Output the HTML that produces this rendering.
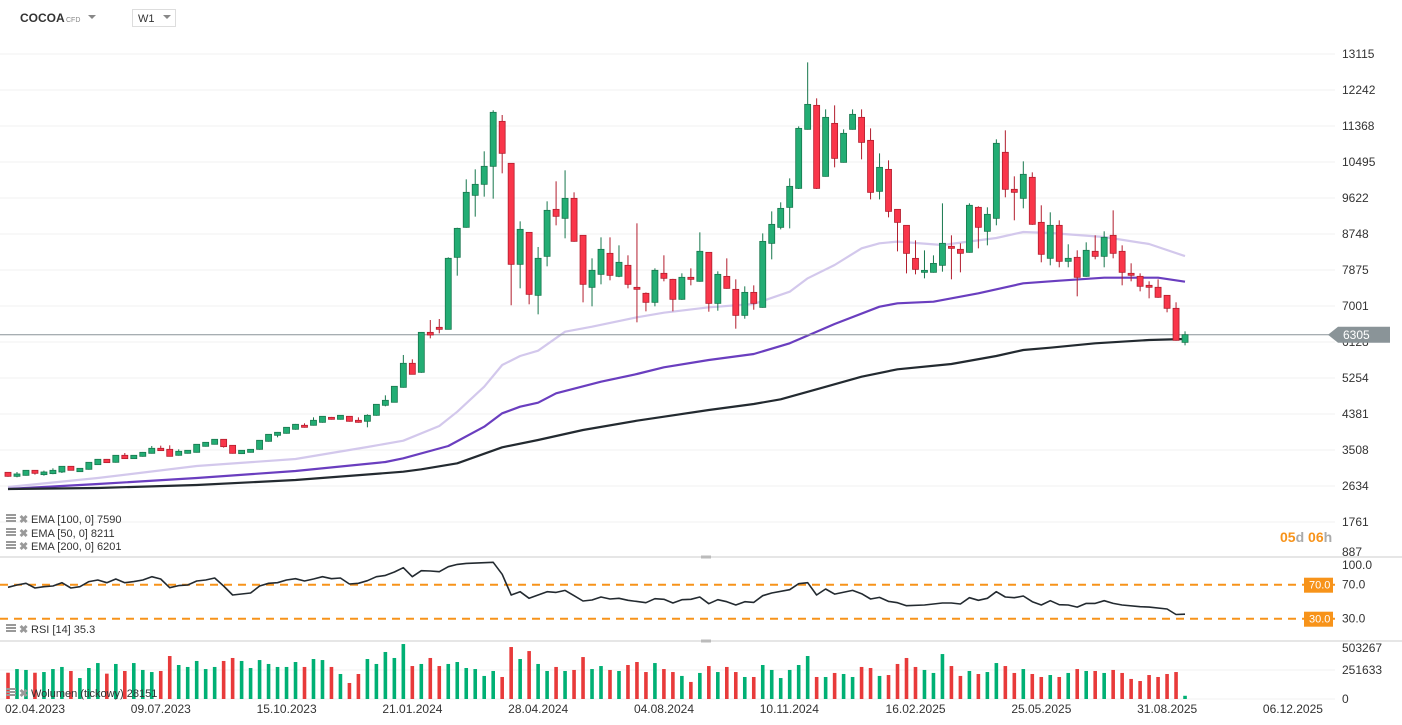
<!DOCTYPE html>
<html><head><meta charset="utf-8"><style>
body{margin:0;background:#fff;font-family:"Liberation Sans",sans-serif;}
#wrap{position:relative;width:1402px;height:725px;overflow:hidden;}
svg{position:absolute;left:0;top:0}
</style></head><body><div id="wrap">
<svg id="c" width="1402" height="725"></svg>
</div>
<script>
const opens=[2966,2869,2893,3015,2910,2934,2974,3112,2982,3039,3152,3282,3209,3379,3298,3354,3427,3549,3524,3379,3427,3451,3597,3646,3767,3621,3419,3451,3524,3718,3864,3912,4010,4107,4107,4179,4300,4252,4325,4228,4204,4349,4592,4665,5028,5611,5392,6362,6484,6435,8182,8910,9686,9953,10390,11481,10463,8012,8788,7260,8206,9346,9128,9613,8716,7454,7769,8279,7721,7988,7454,7309,7090,7794,7648,7163,7697,7600,8303,7065,7720,7405,6774,7332,6968,8521,8909,9394,9855,11287,11869,10146,11432,10486,11287,11578,11020,9783,10316,9346,8958,8157,7818,7818,7988,8449,8376,8303,9395,8813,9128,10730,9832,9613,10123,9031,8158,8958,8085,8182,7721,8328,8206,8716,8328,7794,7721,7503,7455,7260,6945,6119];
const highs=[2975,2974,3020,3015,3007,3063,3112,3120,3070,3215,3290,3290,3385,3435,3385,3460,3605,3613,3621,3524,3505,3650,3700,3775,3775,3625,3500,3530,3750,3895,3945,4065,4140,4155,4300,4330,4310,4355,4330,4300,4373,4620,4834,5060,5813,5708,6371,6661,6686,8182,8900,10074,10317,10754,11750,11635,10463,9055,8788,8433,9541,10026,10293,9759,8716,8158,8667,8667,8473,8231,9007,7330,7915,8231,7660,7794,7915,8788,8303,7842,8157,7648,7478,7502,8763,9297,9516,10098,11359,12912,12039,11772,11869,11287,11772,11772,11311,10704,10535,9346,8958,8594,8351,8230,9492,8716,8522,9492,9420,9395,11045,11263,10147,10511,10244,9444,9274,9080,8498,8352,8546,8716,8813,9322,8473,8037,7794,7600,7648,7260,7091,6387];
const lows=[2860,2845,2885,2910,2885,2920,2950,3010,2975,3030,3145,3195,3200,3290,3290,3345,3420,3485,3350,3370,3420,3445,3590,3640,3565,3420,3410,3445,3515,3710,3815,3905,4000,4050,4100,4170,4245,4245,4195,4170,4058,4340,4567,4660,5020,5340,5380,6217,6338,6430,7737,8900,9169,9654,9605,10220,7018,7430,7042,6799,7964,8958,8643,8560,7090,6993,7527,7624,7700,7430,6605,6872,6993,7600,6872,7150,7503,7590,6863,6887,7420,6451,6693,6911,6960,8133,8860,8885,9840,11280,9840,10140,10365,10480,11280,10559,9588,9588,9152,8327,7793,7769,7672,7810,7834,7648,7818,8295,8400,8473,8959,9638,9080,9371,8970,8061,7988,7940,7940,7236,7710,8134,7940,8158,7503,7600,7357,7187,7200,6848,6160,6047];
const closes=[2869,2926,3015,2942,2974,3015,3112,3015,3063,3209,3282,3201,3379,3298,3379,3451,3549,3492,3354,3476,3500,3646,3694,3767,3589,3427,3500,3524,3743,3888,3937,4058,4131,4058,4228,4325,4252,4349,4204,4179,4349,4616,4713,5053,5611,5344,6362,6298,6435,8158,8885,9759,9953,10390,11700,10705,8012,8861,7284,8158,9322,9177,9613,8570,7527,7867,8376,7745,8061,7527,7406,7090,7867,7673,7163,7697,7648,8328,7065,7769,7429,6774,7332,7065,8569,8982,9370,9904,11311,11893,9855,11578,10583,11190,11651,10971,9758,10365,9297,9030,8278,7890,7866,8035,8522,8400,8279,9444,8910,9225,10948,9832,9759,10196,8983,8255,8958,8085,8158,7697,8352,8206,8667,8279,7818,7746,7479,7455,7212,6945,6168,6305];
const volumes=[228,260,252,228,234,260,278,243,182,269,312,220,304,243,312,252,234,243,373,295,278,330,260,278,330,356,330,269,338,304,278,278,321,278,347,338,278,217,139,217,347,304,408,356,477,286,304,356,286,304,321,269,260,200,243,191,451,347,416,304,243,278,243,252,364,260,286,252,243,295,321,234,312,260,234,200,148,226,286,234,278,234,191,191,295,252,182,252,295,373,191,191,226,217,191,278,269,200,208,304,356,278,252,226,390,286,200,243,217,234,312,286,226,260,217,191,208,191,226,260,243,243,226,252,226,174,156,208,191,217,234,28];
const ema50Idx=[0,10,21,32,40,44,48,50,53,55,57,59,62,65,70,73,78,83,87,89,92,95,97,99,104,110,113,116,122,127,131];
const ema50=[2610,2829,3120,3290,3581,3734,4090,4437,5044,5570,5788,5917,6378,6499,6727,6839,6970,7050,7348,7673,7996,8401,8523,8563,8481,8651,8797,8773,8675,8506,8211];
const ema100Idx=[0,10,21,32,42,44,49,53,55,57,59,61,66,70,73,78,83,87,90,92,97,99,103,108,113,117,122,128,131];
const ema100=[2562,2683,2829,2999,3217,3307,3605,4073,4398,4558,4655,4884,5165,5352,5514,5691,5837,6097,6378,6565,6985,7067,7106,7310,7552,7615,7688,7688,7590];
const ema200Idx=[0,10,21,32,44,46,50,55,59,64,70,73,78,83,86,90,95,99,105,110,113,116,121,127,131];
const ema200=[2562,2586,2659,2780,2982,3040,3185,3574,3751,3993,4219,4316,4478,4624,4738,4981,5286,5466,5594,5788,5934,5990,6097,6177,6201];
const rsiIdx=[0,1,2,3,4,5,6,7,8,9,10,11,12,13,14,15,16,17,18,19,20,21,22,23,24,25,26,27,28,29,30,31,32,33,34,35,36,37,38,39,40,41,42,43,44,45,46,47,48,49,50,51,54,55,56,57,58,59,60,61,62,63,64,65,66,67,68,69,71,72,73,74,75,76,77,78,79,80,81,82,83,84,85,87,88,89,90,91,92,94,95,96,97,98,99,100,102,104,105,106,107,108,109,110,111,112,113,114,115,116,117,118,119,120,121,122,123,124,126,127,129,130,131];
const rsiVal=[66.9,69.6,71.6,66.1,67.7,68.5,72.4,66.1,67.7,73.6,75.5,72.4,76.7,72.4,73.6,75.5,79.4,76.7,66.5,68.9,69.6,74.4,75.5,77.9,68.5,57.9,59.1,60.2,68.5,71.6,72.4,75.5,77.1,74.4,76.7,79.4,77.1,77.9,70.8,71.6,74.7,79.4,81,84.9,90,79.4,86.5,86.1,85.3,91.2,93.9,95.1,96.3,82.2,57.9,61.8,54,57.9,61.8,61,63.3,57.1,50.8,52,55.5,53.2,54,51.6,48.8,53.5,52.8,48.5,52.4,52.8,55.5,47.7,52.4,50,46.1,50,49.2,57.1,60.2,64.1,71.2,72.4,57.9,64.9,59,63.3,59.4,53.2,55.1,50.4,48.8,45.3,46.1,48.5,48.5,47.3,54.7,51.6,54,61.8,55.5,54.7,56.7,50,46.1,51.2,46.5,46.1,43.7,48,48,51.2,48,46.1,44.1,43.7,41.4,35,35.3];
const priceTicks=[13115,12242,11368,10495,9622,8748,7875,7001,6128,5254,4381,3508,2634,1761,887];
const dateLabels=["02.04.2023","09.07.2023","15.10.2023","21.01.2024","28.04.2024","04.08.2024","10.11.2024","16.02.2025","25.05.2025","31.08.2025","06.12.2025"];
const lastPrice=6305;

const NS="http://www.w3.org/2000/svg";
const svg=document.getElementById('c');
function el(t,a,p){const e=document.createElementNS(NS,t);for(const k in a)e.setAttribute(k,a[k]);(p||svg).appendChild(e);return e;}
const X=i=>8+i*8.985;
const Y=p=>54+(13115-p)*36/873.4;
const RY=v=>584.7-(v-70)*0.85;
const VY=v=>699-v*29/251.633;
const GREEN='#23ad74',GSTR='#17774d',RED='#f9364a',RSTR='#b21d2d';

priceTicks.forEach((t,k)=>{
  const y=Y(t);
  if(k<priceTicks.length-1){const g=el('line',{x1:0,x2:1335,y1:y,y2:y,stroke:'#f0f0f0','stroke-width':1});
  }
  const tx=el('text',{x:1342,y:Math.min(y,552)+4,'font-size':12,fill:'#333'});tx.textContent=t;
  
});
[557,641].forEach(y=>{const l=el('line',{x1:0,x2:1402,y1:y,y2:y,stroke:'#ddd','stroke-width':1.5});

const h=el('rect',{x:701,y:y-1.5,width:10,height:3,fill:'#bbb'});});

function emaLine(idx,arr,color,w,name){
  const d=arr.map((v,k)=>(k?'L':'M')+X(idx[k]).toFixed(1)+','+Y(v).toFixed(1)).join('');
  const p=el('path',{d:d,fill:'none',stroke:color,'stroke-width':w,'stroke-linejoin':'round'});
  
}
emaLine(ema50Idx,ema50,'#d3c8ec',2.2,'ema-50-line');
emaLine(ema100Idx,ema100,'#6a3ebf',2.2,'ema-100-line');
emaLine(ema200Idx,ema200,'#232a30',2.2,'ema-200-line');

const lpY=Y(lastPrice);
const lp=el('line',{x1:0,x2:1335,y1:lpY,y2:lpY,stroke:'#8a9498','stroke-width':1});


closes.forEach((c,i)=>{
  const o=opens[i],up=c>=o,x=X(i);
  const g=el('g',{});
  
  el('line',{x1:x,x2:x,y1:Y(highs[i]),y2:Y(lows[i]),stroke:up?GSTR:RSTR,'stroke-width':1},g);
  const top=Y(Math.max(o,c)),bot=Y(Math.min(o,c));
  el('rect',{x:x-3,y:top,width:6,height:Math.max(bot-top,1.5),fill:up?GREEN:RED,stroke:up?GSTR:RSTR,'stroke-width':0.8},g);
});

const pl=el('g',{});
el('path',{d:`M1328,${lpY} L1338,${lpY-8} L1390,${lpY-8} L1390,${lpY+8} L1338,${lpY+8} Z`,fill:'#8a9498'},pl);
const plt=el('text',{x:1343,y:lpY+4.5,'font-size':12,fill:'#fff'},pl);plt.textContent=lastPrice;

const cd=el('text',{x:1280,y:542,'font-size':14,'font-weight':'bold'});

cd.innerHTML='<tspan fill="#f7931a">05</tspan><tspan fill="#aaa">d </tspan><tspan fill="#f7931a">06</tspan><tspan fill="#aaa">h</tspan>';

[70,30].forEach(v=>{const y=RY(v);
 const l=el('line',{x1:0,x2:1335,y1:y,y2:y,stroke:'#f7931a','stroke-width':2,'stroke-dasharray':'8,6'});
 
 const b=el('rect',{x:1304,y:y-7,width:29,height:15,fill:'#f7931a'});
 const t=el('text',{x:1309,y:y+4,'font-size':11,fill:'#fff'});t.textContent=v.toFixed(1);
 const t2=el('text',{x:1342,y:y+4,'font-size':12,fill:'#333'});t2.textContent=v.toFixed(1);
});
const r100=el('text',{x:1342,y:569,'font-size':12,fill:'#333'});r100.textContent='100.0';
const rp=el('path',{d:rsiVal.map((v,k)=>(k?'L':'M')+X(rsiIdx[k]).toFixed(1)+','+RY(v).toFixed(1)).join(''),fill:'none',stroke:'#232a30','stroke-width':1.6,'stroke-linejoin':'round'});


const volTicks=[0,251.633,503.267];
volTicks.forEach((v,k)=>{const y=VY(v);
 if(k<2){const g=el('line',{x1:0,x2:1335,y1:y,y2:y,stroke:'#f0f0f0'});}
 const t=el('text',{x:1342,y:(k==2?652:y+4),'font-size':12,fill:'#333'});t.textContent=Math.round(v*1000);
 });
volumes.forEach((v,i)=>{const up=closes[i]>=opens[i];
 const r=el('rect',{x:X(i)-1.8,y:VY(v),width:3.6,height:VY(0)-VY(v),fill:up?'#00b074':'#e83a3a'});
 });

dateLabels.forEach((d,k)=>{const t=el('text',{x:X(k*14)-3,y:713,'font-size':12,fill:'#333'});t.textContent=d;
 });

function legend(y,txt,name){const g=el('g',{});
 for(let j=0;j<3;j++)el('rect',{x:6,y:y-8+j*3,width:10,height:2,fill:'#999'},g);
 const x=el('text',{x:19,y:y+1,'font-size':11,fill:'#999','font-weight':'bold'},g);x.textContent='✖';
 const t=el('text',{x:31,y:y+1,'font-size':11,fill:'#333'},g);t.textContent=txt;}
legend(522,'EMA [100,  0] 7590','ema-100-legend');
legend(536,'EMA [50,  0] 8211','ema-50-legend');
legend(549,'EMA [200,  0] 6201','ema-200-legend');
legend(632,'RSI [14] 35.3','rsi-legend');
legend(696,'Wolumen  (tickowy)  28151','volume-legend');

const h1=el('text',{x:20,y:22,'font-size':12,'font-weight':'bold',fill:'#333'});h1.textContent='COCOA';
const h2=el('text',{x:66,y:22,'font-size':7,fill:'#888'});h2.textContent='CFD';
const a1=el('path',{d:'M88,15 L96,15 L92,19 Z',fill:'#888'});
const bx=el('rect',{x:132.5,y:9.5,width:43,height:17,fill:'#fff',stroke:'#ddd'});
const w1=el('text',{x:138,y:22,'font-size':11,fill:'#333'});w1.textContent='W1';
const a2=el('path',{d:'M163,15 L171,15 L167,19 Z',fill:'#888'});
</script></body></html>
